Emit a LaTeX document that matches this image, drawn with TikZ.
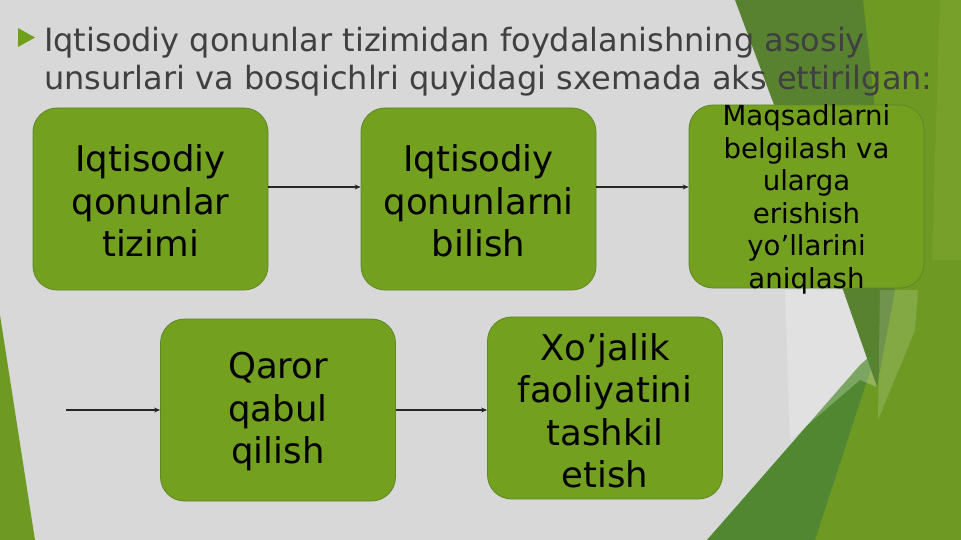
\documentclass[tikz,border=0pt]{standalone}
\usepackage{fontspec}
\setmainfont{DejaVu Sans}
\usetikzlibrary{arrows.meta}
\definecolor{bg}{RGB}{216,216,216}
\definecolor{boxg}{RGB}{115,160,30}
\definecolor{boxb}{RGB}{95,135,40}
\definecolor{oliveg}{RGB}{110,154,36}
\definecolor{darkg}{RGB}{88,130,48}
\definecolor{bandg}{RGB}{80,135,48}
\definecolor{stripg}{RGB}{118,160,42}
\definecolor{titlec}{RGB}{64,64,64}
\definecolor{bulletg}{RGB}{110,160,30}
\begin{document}
\begin{tikzpicture}[x=1pt,y=-1pt,
  gbox/.style={draw=boxb,line width=0.8pt,fill=boxg,rounded corners=24pt,
    minimum width=235pt,minimum height=182pt,inner sep=0pt},
  btext/.style={align=center,font=\fontsize{35.5}{42.5}\selectfont,text=black,inner sep=0pt},
  stext/.style={align=center,font=\fontsize{27.6}{32.5}\selectfont,text=black,inner sep=0pt},
  ttext/.style={anchor=base west,font=\fontsize{32}{38}\selectfont,text=titlec,inner sep=0pt},
  conn/.style={-{Stealth[length=6pt,width=5pt]},line width=1.5pt,draw=black!85}]
\fill[bg] (0,0) rectangle (961,540);
\useasboundingbox (0,0) rectangle (961,540);
% background facets
\fill[oliveg] (860,0) -- (961,0) -- (961,540) -- (707,540) -- (880,350) -- (893,290) -- cycle;
\fill[stripg] (940,0) -- (961,0) -- (961,260) -- (932,260) -- cycle;
\fill[darkg] (735,0) -- (863,0) -- (895,290) -- (877,387) -- (843,290) -- cycle;
\fill[bandg] (707,540) -- (815,540) -- (877,350) -- (860,365) -- cycle;
\fill[white,opacity=0.25] (785,290) -- (843,290) -- (877,387) -- (860,380) -- (790,440) -- cycle;
\fill[white,opacity=0.15] (880,290) -- (918,290) -- (915,330) -- (878,420) -- cycle;
\fill[oliveg] (0,315) -- (35,540) -- (0,540) -- cycle;
% title
\fill[bulletg] (18,28) -- (35,37.5) -- (18,47) -- cycle;
\node[ttext] (t1) at (44,52) {Iqtisodiy qonunlar tizimidan foydalanishning asosiy};
\node[ttext] (t2) at (44,90) {unsurlari va bosqichlri quyidagi sxemada aks ettirilgan:};
% boxes
\node[gbox] (b1) at (150.5,199) {};
\node[gbox] (b2) at (478.5,199) {};
\node[gbox,minimum height=183pt] (b3) at (806.5,196.5) {};
\node[gbox] (b4) at (278,410) {};
\node[gbox] (b5) at (605,408) {};
\node[btext] (l1) at ([yshift=-2pt]b1.center) {Iqtisodiy\\qonunlar\\tizimi};
\node[btext] (l2) at ([yshift=-2pt]b2.center) {Iqtisodiy\\qonunlarni\\bilish};
\node[stext] (l3) at ([yshift=-3pt]b3.center) {Maqsadlarni\\belgilash va\\ularga\\erishish\\yo’llarini\\aniqlash};
\node[btext] (l4) at ([yshift=-2pt]b4.center) {Qaror\\qabul\\qilish};
\node[btext] (l5) at ([yshift=-3pt]b5.center) {Xo’jalik\\faoliyatini\\tashkil\\etish};
% connectors
\coordinate (s) at (66,410);
\draw[conn] ([yshift=12pt]b1.east) -- ([yshift=12pt]b1.east -| b2.west);
\draw[conn] ([yshift=12pt]b2.east) -- ([yshift=12pt]b2.east -| b3.west);
\draw[conn] (s) -- (s -| b4.west);
\draw[conn] (b4.east) -- (b4.east -| b5.west);
\end{tikzpicture}
\end{document}
